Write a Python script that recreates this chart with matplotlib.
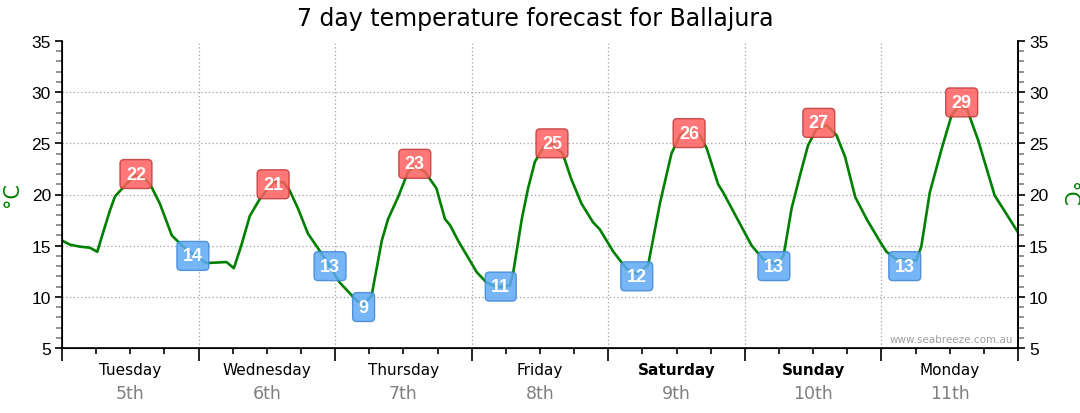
import matplotlib.pyplot as plt
from matplotlib.ticker import MultipleLocator
import matplotlib.transforms as mtransforms

# hours from midnight Tuesday, temperature
hours = [0, 1.4, 3.2, 4.9, 6.2, 6.9, 8.4, 9.3, 11.1, 12.8, 14.6, 15.5, 17.2, 19.3,
         21.3, 23.7, 25.4, 28.9, 30.2, 31.5, 33.0, 34.8, 37.1, 38.9, 40.0, 41.5,
         43.2, 45.9, 48.8, 51.5, 52.9, 54.4, 56.2, 57.3, 59.1, 60.8, 62.0, 63.8,
         65.8, 67.3, 68.2, 69.6, 72.9, 74.6, 76.4, 78.7, 79.3, 80.8, 81.9, 83.1,
         84.6, 86.0, 88.0, 89.5, 91.3, 93.3, 94.5, 96.9, 99.2, 101.0, 103.0, 105.1,
         107.1, 108.6, 110.3, 112.1, 113.3, 115.3, 116.2, 118.5, 121.2, 123.2,
         125.6, 126.8, 128.2, 129.7, 131.1, 132.6, 134.4, 136.1, 137.6, 139.4,
         141.4, 143.8, 144.9, 146.6, 150.1, 151.0, 152.5, 154.6, 156.3, 157.5,
         159.0, 161.0, 163.9, 165.4, 168.0]
temps = [15.5, 15.1, 14.9, 14.8, 14.4, 15.7, 18.4, 19.8, 20.9, 21.9, 21.5, 21.0,
         19.1, 16.0, 14.9, 13.9, 13.3, 13.4, 12.8, 15.0, 17.9, 19.6, 21.2, 21.2,
         20.4, 18.6, 16.2, 14.0, 11.4, 9.8, 9.15, 10.1, 15.5, 17.6, 19.8, 22.2,
         22.8, 22.2, 20.6, 17.6, 17.0, 15.5, 12.4, 11.4, 10.95, 11.1, 12.4, 17.6,
         20.6, 23.2, 24.6, 25.0, 24.0, 21.5, 19.1, 17.3, 16.6, 14.4, 12.75, 12.25,
         13.1, 19.2, 24.0, 25.8, 26.3, 25.8, 24.5, 21.0, 20.2, 17.8, 15.0, 13.7,
         13.2, 14.0, 18.6, 21.9, 24.8, 26.4, 26.75, 25.8, 23.7, 19.75, 17.6, 15.35,
         14.4, 13.7, 13.55, 14.9, 20.2, 24.5, 27.7, 28.55, 28.4, 25.3, 19.9, 18.6,
         16.3]

max_hours = [13.0, 37.1, 62.0, 86.1, 110.2, 133.0, 158.1]
max_vals = [22, 21, 23, 25, 26, 27, 29]
min_hours = [23.0, 47.1, 53.0, 77.1, 101.0, 125.1, 148.1]
min_vals = [14, 13, 9, 11, 12, 13, 13]

day_names = ['Tuesday', 'Wednesday', 'Thursday', 'Friday', 'Saturday', 'Sunday', 'Monday']
day_dates = ['5th', '6th', '7th', '8th', '9th', '10th', '11th']
weekend = ['Saturday', 'Sunday']

fig = plt.figure(figsize=(10.8, 4.14), dpi=100)
ax = fig.add_axes([62 / 1080, 1 - 349 / 414, (1018 - 62) / 1080, (349 - 42) / 414])

ax.plot(hours, temps, color='#008000', lw=1.9, zorder=3)

# labels for daily max (red) and min (blue)
for h, v in zip(max_hours, max_vals):
    ax.text(h, v, str(v), ha='center', va='center', color='white', fontsize=13,
            fontweight='bold', family='Liberation Sans', zorder=5,
            bbox=dict(boxstyle='round,pad=0.33,rounding_size=0.22', fc='#ff5f5f',
                      ec='#c03838', lw=1, alpha=0.85))
for h, v in zip(min_hours, min_vals):
    ax.text(h, v, str(v), ha='center', va='center', color='white', fontsize=13,
            fontweight='bold', family='Liberation Sans', zorder=5,
            bbox=dict(boxstyle='round,pad=0.33,rounding_size=0.22', fc='#5eaaf5',
                      ec='#3f86d6', lw=1, alpha=0.85))

ax.set_xlim(0, 168)
ax.set_ylim(5, 35)
ax.xaxis.set_major_locator(MultipleLocator(24))
ax.xaxis.set_minor_locator(MultipleLocator(6))
ax.yaxis.set_major_locator(MultipleLocator(5))
ax.yaxis.set_minor_locator(MultipleLocator(1))
ax.set_xticklabels([])
ax.tick_params(axis='x', which='major', length=9, width=1.2, color='black')
ax.tick_params(axis='x', which='minor', length=4, width=1.2, color='black')
ax.tick_params(axis='y', which='major', length=5, width=1.2, color='black', labelsize=12.5, pad=3)
ax.tick_params(axis='y', which='minor', length=4, width=1.2, color='#808080')
for lab in ax.get_yticklabels():
    lab.set_family('Liberation Sans')

ax.spines['top'].set_visible(False)
for s in ['left', 'right', 'bottom']:
    ax.spines[s].set_linewidth(1.2)

for d in range(24, 168, 24):
    ax.axvline(d, color='#a0a0a0', lw=0.9, ls=(0, (1, 2)), zorder=1)
for t in range(10, 35, 5):
    ax.axhline(t, color='#a0a0a0', lw=0.9, ls=(0, (1, 2)), zorder=1)

ax2 = ax.twinx()
ax2.set_ylim(5, 35)
ax2.yaxis.set_major_locator(MultipleLocator(5))
ax2.yaxis.set_minor_locator(MultipleLocator(1))
ax2.tick_params(axis='y', which='major', length=5, width=1.2, color='black', labelsize=12.5, pad=3)
ax2.tick_params(axis='y', which='minor', length=4, width=1.2, color='#808080')
for lab in ax2.get_yticklabels():
    lab.set_family('Liberation Sans')
ax2.spines['top'].set_visible(False)
ax2.spines['right'].set_linewidth(1.2)

trans = mtransforms.blended_transform_factory(ax.transData, ax.transAxes)
for i, (name, date) in enumerate(zip(day_names, day_dates)):
    x = 12 + 24 * i
    ax.text(x, -0.07, name, transform=trans, ha='center', va='center', fontsize=11,
            fontweight='bold' if name in weekend else 'normal', color='black')
    ax.text(x, -0.145, date, transform=trans, ha='center', va='center', fontsize=12.5,
            color='#808080')

ax.text(0.995, 0.03, 'www.seabreeze.com.au', transform=ax.transAxes, ha='right',
        va='center', fontsize=7.5, color='#a0a0a0')

fig.text(12 / 1080, 1 - 195 / 414, '°C', rotation=90, ha='center', va='center',
         fontsize=15, color='#008000')
fig.text(1068 / 1080, 1 - 195 / 414, '°C', rotation=270, ha='center', va='center',
         fontsize=15, color='#008000')

fig.text(535 / 1080, 1 - 19 / 414, '7 day temperature forecast for Ballajura',
         ha='center', va='center', fontsize=17)

fig.savefig('out.png', dpi=100)
